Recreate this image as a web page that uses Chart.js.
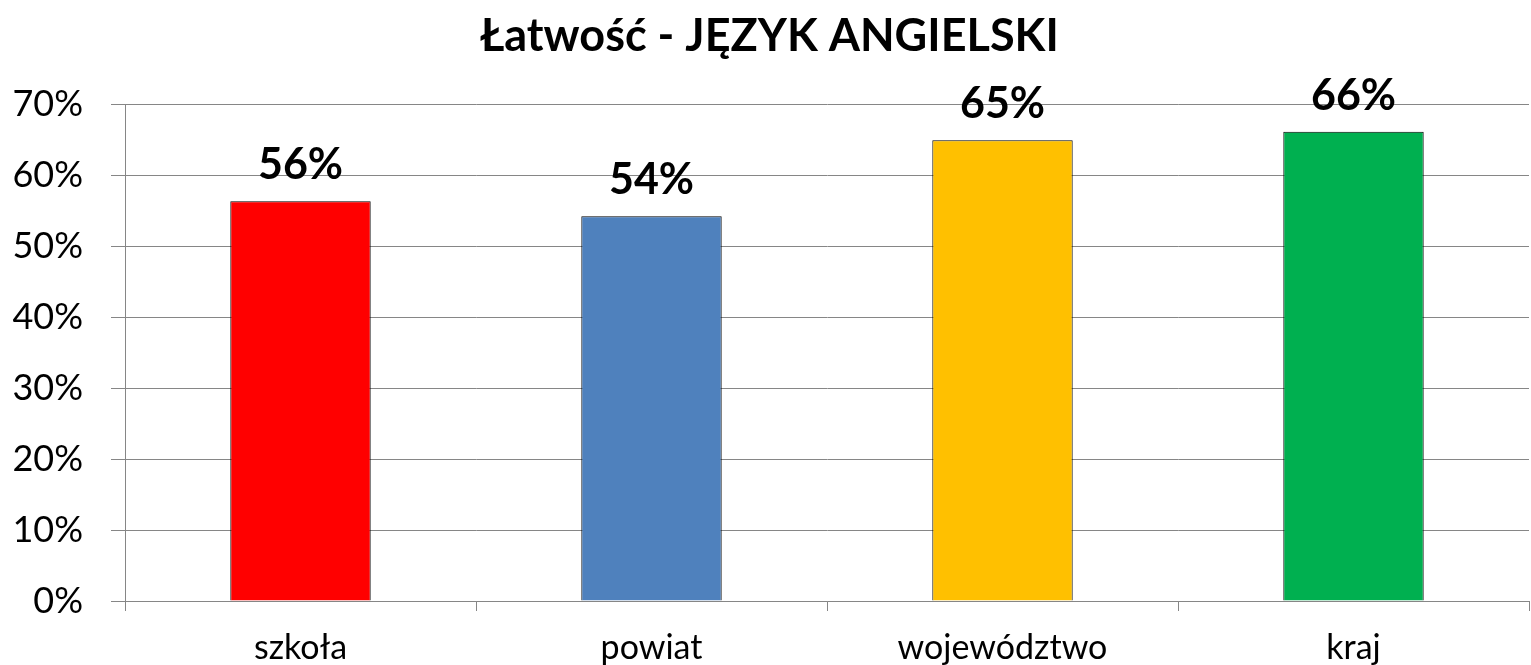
<!DOCTYPE html>
<html lang="pl">
<head>
    <meta charset="UTF-8">
    <title>Łatwość - JĘZYK ANGIELSKI</title>
    <style>
        html, body { margin: 0; padding: 0; background: #fff; }
        .wrap { width: 1531px; height: 665px; }
    </style>
    <script src="https://cdn.jsdelivr.net/npm/chart.js"></script>
</head>
<body>
    <div class="wrap"><canvas id="chart"></canvas></div>
    <script>
        const categories = ['szkoła', 'powiat', 'województwo', 'kraj'];
        const values = [56.3, 54.2, 64.9, 66.1];
        const barColors = ['#FF0000', '#4F81BD', '#FFC000', '#00B050'];
        const yTicks = [0, 10, 20, 30, 40, 50, 60, 70];

        const font = 'Lato, "Open Sans", sans-serif';

        // etykiety nad słupkami
        const valueLabels = {
            id: 'valueLabels',
            afterDatasetsDraw(chart) {
                const ctx = chart.ctx;
                const meta = chart.getDatasetMeta(0);
                ctx.save();
                ctx.font = 'bold 43px ' + font;
                ctx.fillStyle = '#000';
                ctx.textAlign = 'center';
                ctx.textBaseline = 'alphabetic';
                meta.data.forEach((bar, i) => {
                    ctx.fillText(Math.round(values[i]) + '%', bar.x, bar.y - 22);
                });
                ctx.restore();
            }
        };

        new Chart(document.getElementById('chart'), {
            type: 'bar',
            data: {
                labels: categories,
                datasets: [{
                    data: values,
                    backgroundColor: barColors,
                    borderColor: '#000',
                    borderWidth: 1,
                    categoryPercentage: 1,
                    barPercentage: 0.4
                }]
            },
            options: {
                responsive: true,
                maintainAspectRatio: false,
                animation: false,
                layout: { padding: { left: 10, right: 2, top: 8, bottom: 0 } },
                plugins: {
                    legend: { display: false },
                    tooltip: { enabled: false },
                    title: {
                        display: true,
                        text: 'Łatwość - JĘZYK ANGIELSKI',
                        color: '#000',
                        font: { family: font, size: 45, weight: 'bold', lineHeight: 1.2 },
                        padding: { top: 1, bottom: 41 }
                    }
                },
                scales: {
                    x: {
                        afterFit(scale) { scale.height = 64; },
                        grid: { drawOnChartArea: false, drawTicks: true, tickLength: 10, color: '#868686' },
                        border: { color: '#868686' },
                        ticks: { color: '#000', font: { family: font, size: 34, lineHeight: 1 }, padding: 20, maxRotation: 0 }
                    },
                    y: {
                        min: 0,
                        max: 70,
                        afterFit(scale) { scale.width = 115; },
                        afterBuildTicks(scale) { scale.ticks = yTicks.map(v => ({ value: v })); },
                        grid: { color: '#868686', tickLength: 14 },
                        border: { color: '#868686' },
                        ticks: {
                            color: '#000',
                            font: { family: font, size: 36 },
                            padding: 28,
                            callback: v => v + '%'
                        }
                    }
                }
            },
            plugins: [valueLabels]
        });
    </script>
</body>
</html>
